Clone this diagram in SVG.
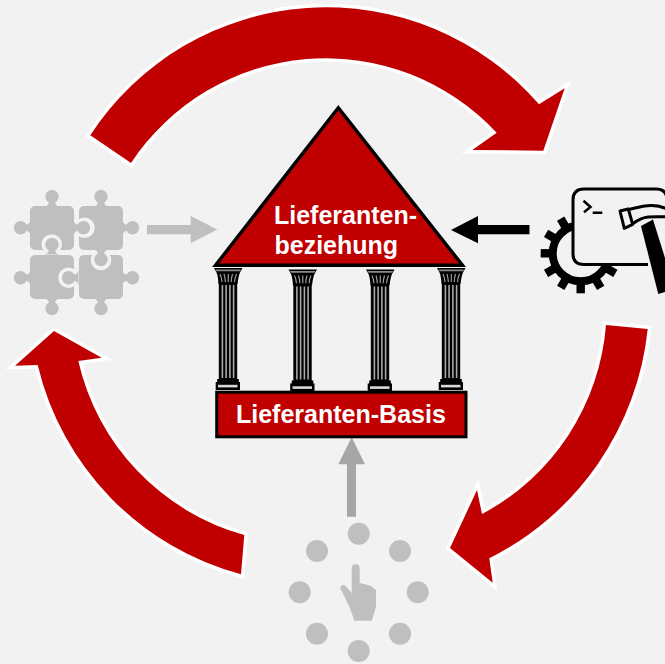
<svg xmlns="http://www.w3.org/2000/svg" xmlns:xlink="http://www.w3.org/1999/xlink" width="665" height="664" viewBox="0 0 665 664">
<style>
.cycle{fill:#c00000;stroke:#fff;stroke-width:7;stroke-linejoin:miter;stroke-miterlimit:10;paint-order:stroke}
.lbl{font-family:"Liberation Sans",Arial,sans-serif;font-weight:700;font-size:25px;fill:#fff}
.puz{fill:#bfbfbf}
.cut{fill:#f2f2f2}
.dot{fill:#bfbfbf}
.icon{fill:none;stroke:#000;stroke-width:3;stroke-linejoin:round}
</style>
<defs>
<g id="knob"><circle cy="-9.5" r="6.7"/><path d="M-8 0.5Q-3 0-3-5L3-5Q3 0 8 0.5Z"/></g>
<g id="column">
<path d="M-14 268H14.5L12 272.5Q10.5 276 9.5 284H-9.5Q-10 276-11.5 272.5Z" fill="#000"/>
<path d="M-12.5 269.6H13L12 271.2H-11.5Z" fill="#8c8c8c"/>
<path d="M-8 274Q-6.5 277-6 282M-4 274Q-3 277-2.6 282M0.3 274V282M4.5 274Q3.5 277 3.2 282M8.5 274Q7 277 6.5 282" stroke="#a6a6a6" stroke-width="1.1" fill="none"/>
<rect x="-9.2" y="282" width="18.4" height="98" fill="#000"/>
<path d="M-5.6 285V378M-1.9 285V378M1.9 285V378M5.6 285V378" stroke="#a8a8a8" stroke-width="1.6" fill="none"/>
<path d="M-10.8 379H10.8V382H12V390H-12.3V382H-10.8Z" fill="#000"/>
<rect x="-10" y="384.8" width="19.5" height="2.6" fill="#d9d9d9"/>
</g>
</defs>
<rect width="665" height="664" fill="#f2f2f2"/>

<g id="connectors">
<path class="cycle" d="M90.3 135.3A281.6 281.6 0 0 1 539 104.3L564.7 88.3L543.3 150.7L472.3 150L496.7 132.7A233.5 233.5 0 0 0 131 163Z"/>
<path class="cycle" d="M647.7 329A290 290 0 0 1 489.3 558.3L492.7 582.7L450 548L477 490L482 514A235 235 0 0 0 606 325Z"/>
<path class="cycle" d="M241 574.3A285 285 0 0 1 37.7 365L15 365.7L54 331L101.7 357.7L78.3 361A235 235 0 0 0 244.3 535Z"/>
<path d="M147 225H190.7V216L217.3 229.5L190.7 243.3V234.3H147Z" fill="#bfbfbf"/>
<path d="M529.5 225H478V216L451 230L478 243.3V234.3H529.5Z" fill="#000"/>
<path d="M347 516.7V464.3H338.3L351.7 437.3L365 464.3H356V516.7Z" fill="#a6a6a6"/>
</g>

<g id="node-puzzle">
<g class="puz">
<rect x="30" y="206" width="44" height="44" rx="5"/>
<rect x="79" y="206" width="44" height="44" rx="5"/>
<rect x="30" y="255" width="44" height="44" rx="5"/>
<rect x="79" y="255" width="44" height="44" rx="5"/>
</g>
<g class="cut">
<circle cx="84.5" cy="227.7" r="10.3"/>
<circle cx="51.7" cy="244.5" r="10.3"/>
<circle cx="68.5" cy="277.7" r="10.3"/>
<circle cx="101" cy="260" r="10.3"/>
</g>
<g class="puz">
<use xlink:href="#knob" href="#knob" transform="translate(52 206)"/>
<use xlink:href="#knob" href="#knob" transform="translate(101 206)"/>
<use xlink:href="#knob" href="#knob" transform="translate(30 227.7) rotate(-90)"/>
<use xlink:href="#knob" href="#knob" transform="translate(30 277.7) rotate(-90)"/>
<use xlink:href="#knob" href="#knob" transform="translate(123 227.7) rotate(90)"/>
<use xlink:href="#knob" href="#knob" transform="translate(123 277.7) rotate(90)"/>
<use xlink:href="#knob" href="#knob" transform="translate(52 299) rotate(180)"/>
<use xlink:href="#knob" href="#knob" transform="translate(101 299) rotate(180)"/>
<use xlink:href="#knob" href="#knob" transform="translate(74 227.7) rotate(90)"/>
<use xlink:href="#knob" href="#knob" transform="translate(101 250) rotate(180)"/>
<use xlink:href="#knob" href="#knob" transform="translate(52 254)"/>
<use xlink:href="#knob" href="#knob" transform="translate(78 277.7) rotate(-90)"/>
</g>
</g>

<g id="node-temple">
<use xlink:href="#column" href="#column" transform="translate(228 0)"/>
<use xlink:href="#column" href="#column" transform="translate(302.5 1.5)"/>
<use xlink:href="#column" href="#column" transform="translate(380 1.5)"/>
<use xlink:href="#column" href="#column" transform="translate(451 0)"/>
<path d="M338.3 107.7L215.5 265.3H462.5Z" fill="#c00000" stroke="#000" stroke-width="3.4" stroke-linejoin="miter"/>
<text class="lbl" x="274" y="224">Lieferanten-</text>
<text class="lbl" x="274.5" y="253.5">beziehung</text>
<rect x="216.7" y="392.2" width="249.3" height="44.6" fill="#c00000" stroke="#000" stroke-width="3"/>
<text class="lbl" x="236" y="423">Lieferanten-Basis</text>
</g>

<g id="node-tools">
<circle cx="580.7" cy="253.3" r="28" fill="none" stroke="#000" stroke-width="8"/>
<g fill="#000">
<rect x="-4.2" y="30" width="8.4" height="10" transform="translate(580.7 253.3) rotate(0)"/>
<rect x="-4.2" y="30" width="8.4" height="10" transform="translate(580.7 253.3) rotate(30)"/>
<rect x="-4.2" y="30" width="8.4" height="10" transform="translate(580.7 253.3) rotate(60)"/>
<rect x="-4.2" y="30" width="8.4" height="10" transform="translate(580.7 253.3) rotate(90)"/>
<rect x="-4.2" y="30" width="8.4" height="10" transform="translate(580.7 253.3) rotate(120)"/>
<rect x="-4.2" y="30" width="8.4" height="10" transform="translate(580.7 253.3) rotate(150)"/>
<rect x="-4.2" y="30" width="8.4" height="10" transform="translate(580.7 253.3) rotate(-60)"/>
<rect x="-4.2" y="30" width="8.4" height="10" transform="translate(580.7 253.3) rotate(-30)"/>
<rect x="-4.2" y="30" width="8.4" height="10" transform="translate(580.7 253.3) rotate(-90)"/>
<rect x="-4.2" y="30" width="8.4" height="10" transform="translate(580.7 253.3) rotate(-120)"/>
</g>
<path d="M648 264.5H584Q573 264.5 573 254V200Q573 189 584 189H656Q667 189 667 200V264.5Z" fill="#f2f2f2"/>
<path class="icon" d="M648 264.5H584Q573 264.5 573 254V200Q573 189 584 189H656Q667 189 667 200"/>
<path d="M583.5 200.7L590.5 207L584 212.3M592.7 212.7H602.3" fill="none" stroke="#000" stroke-width="2.5"/>
<path d="M641 226L653 219.5L665 258V292L658.3 294Z" fill="#000"/>
<path class="icon" d="M628.5 209.5L643 206.3C650 205 660 205.5 667 209M633 223.5C638 220 642 217.5 648 217C654 216.5 660 216.5 667 217"/>
<path class="icon" d="M620 211L628.3 209L632.7 224.3L624.3 228.3Z"/>
</g>

<g id="node-touch">
<circle class="dot" cx="358.7" cy="533.7" r="11"/>
<circle class="dot" cx="317" cy="551" r="11"/>
<circle class="dot" cx="400" cy="551" r="11"/>
<circle class="dot" cx="299.7" cy="592.3" r="11"/>
<circle class="dot" cx="417.7" cy="592.3" r="11"/>
<circle class="dot" cx="317" cy="633.7" r="11"/>
<circle class="dot" cx="400" cy="633.7" r="11"/>
<circle class="dot" cx="358.7" cy="651" r="11"/>
<path class="dot" d="M351.7 568.3A4 4 0 0 1 359.7 568.3V583L366 584.5L371 586L376 590V606.7L371.7 620.7H354.3L350 608L341.5 590.5A2.8 2.8 0 0 1 345.5 586L351.7 593.3Z"/>
</g>
</svg>
